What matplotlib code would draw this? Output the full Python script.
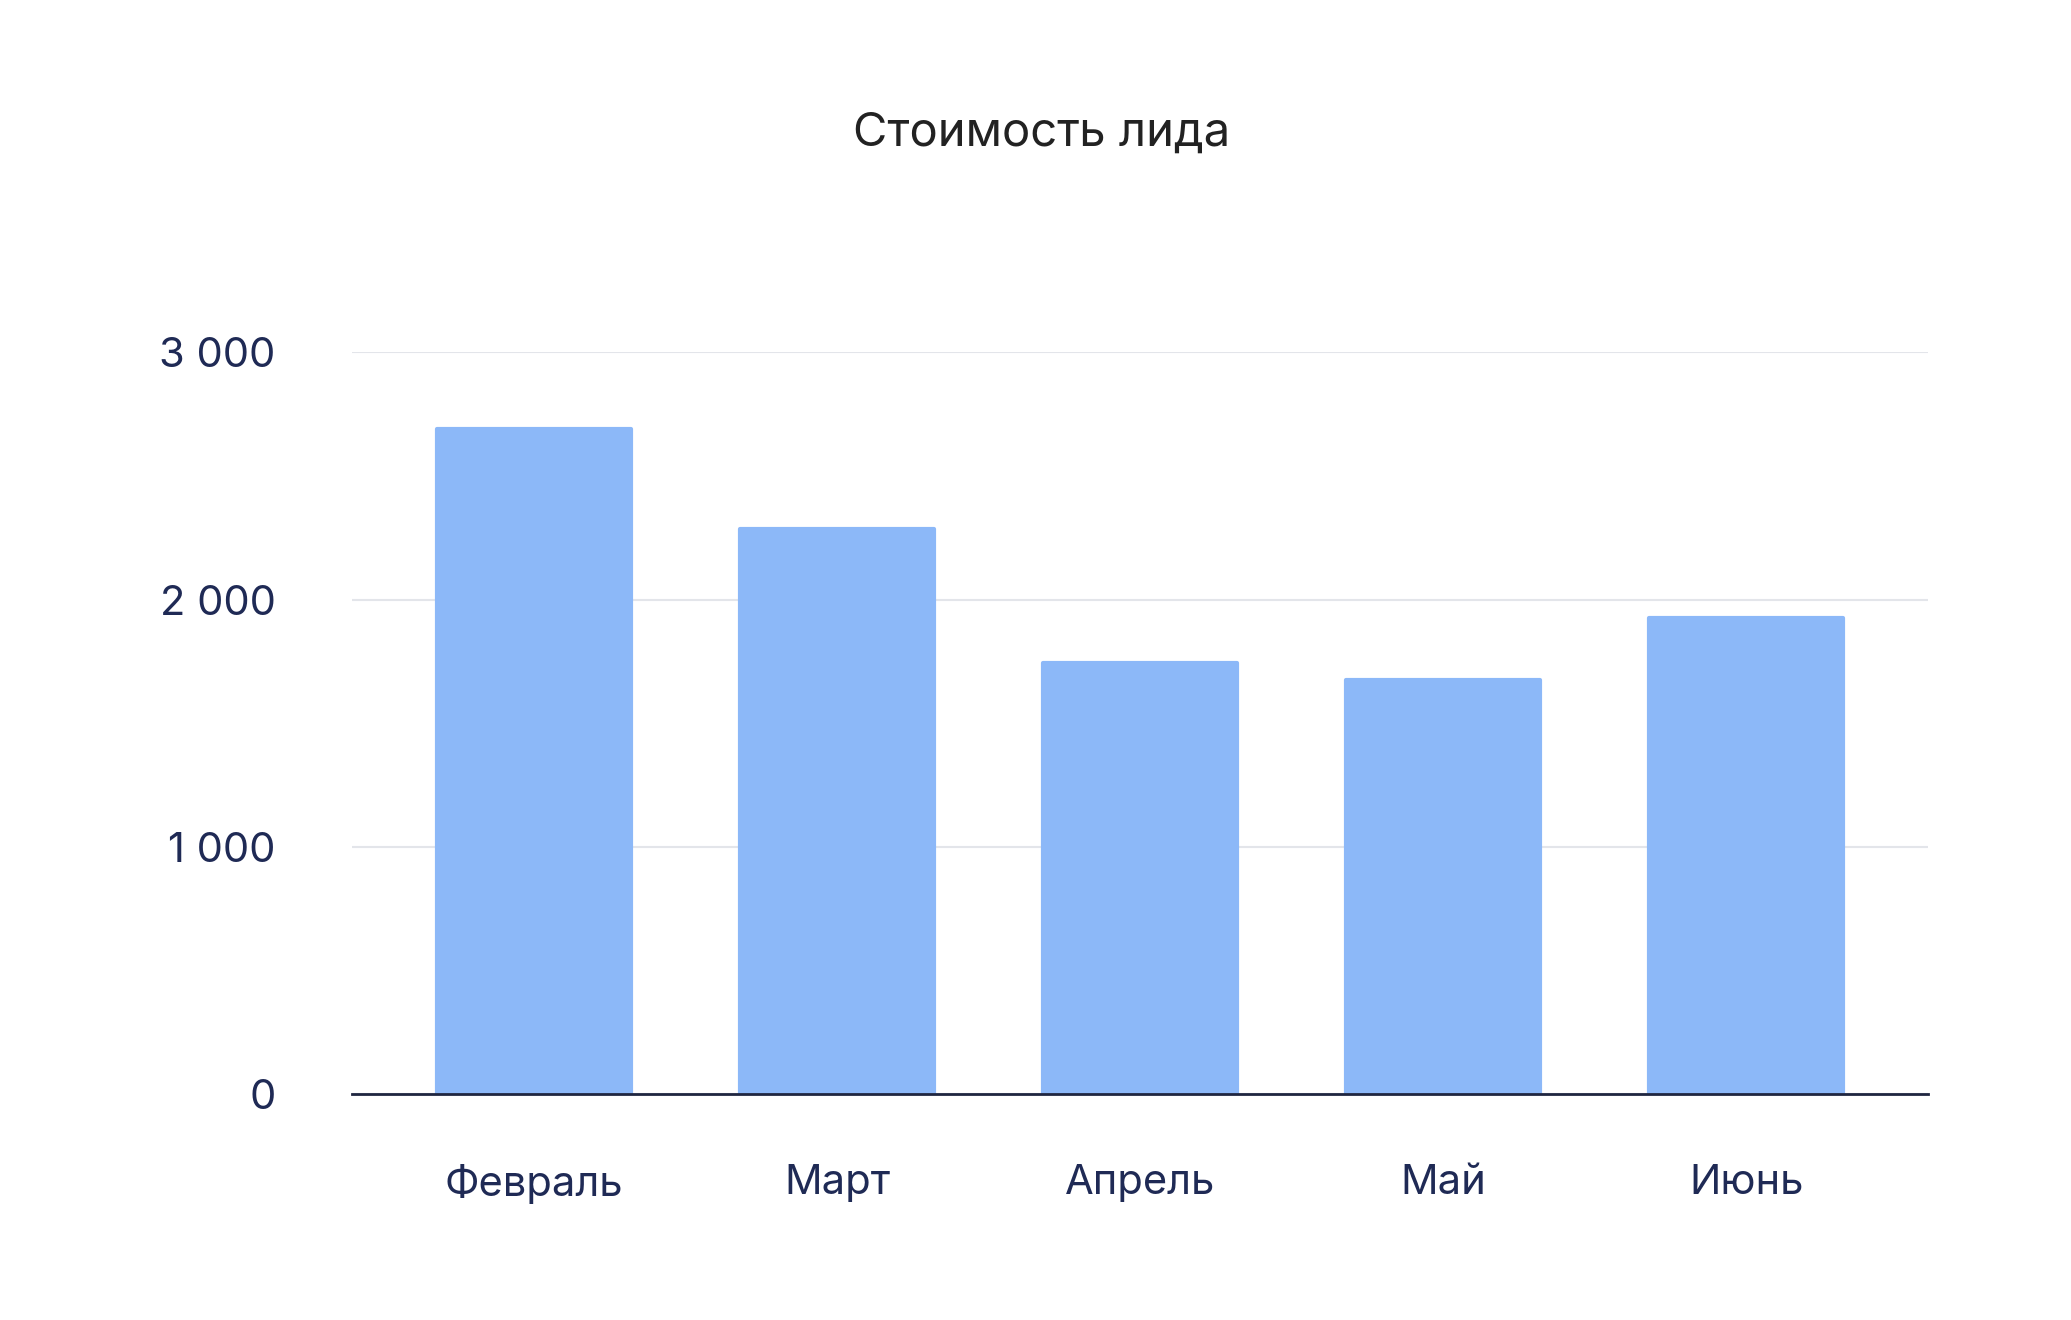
import matplotlib
matplotlib.use("Agg")
import matplotlib.pyplot as plt

months = ["Февраль", "Март", "Апрель", "Май", "Июнь"]
values = [2690, 2285, 1745, 1675, 1925]
yticks = [0, 1000, 2000, 3000]
ylabels = ["0", "1 000", "2 000", "3 000"]

plt.rcParams['font.family'] = ['Inter', 'DejaVu Sans']
fig = plt.figure(figsize=(20.71, 13.2), dpi=100)
ax = fig.add_axes([0.170, 0.171, 0.761, 0.562])
x = range(len(months))
ax.bar(x, values, width=0.64, color="#8cb8f8", edgecolor="#8cb8f8",
       linewidth=3, joinstyle="round", zorder=3)
ax.set_xlim(-0.6, 4.6)
ax.set_ylim(0, 3000)
ax.set_yticks(yticks)
ax.set_yticklabels(ylabels)
ax.set_xticks(list(x))
ax.set_xticklabels(months)
ax.grid(axis="y", color="#e3e5ea", linewidth=1.5, zorder=0)
for s in ["top", "right", "left"]:
    ax.spines[s].set_visible(False)
ax.spines["bottom"].set_color("#1f2640")
ax.spines["bottom"].set_linewidth(2)
ax.spines["bottom"].set_zorder(4)
ax.tick_params(axis="both", length=0, labelsize=30, labelcolor="#1f2a55")
ax.tick_params(axis="x", pad=50)
ax.tick_params(axis="y", pad=55)
for t in ax.get_yticklabels():
    t.set_horizontalalignment("right")
fig.text(0.503, 0.899, "Стоимость лида", ha="center", va="center",
         fontsize=34, color="#222222")
fig.savefig("out.png", dpi=100, facecolor="white")
